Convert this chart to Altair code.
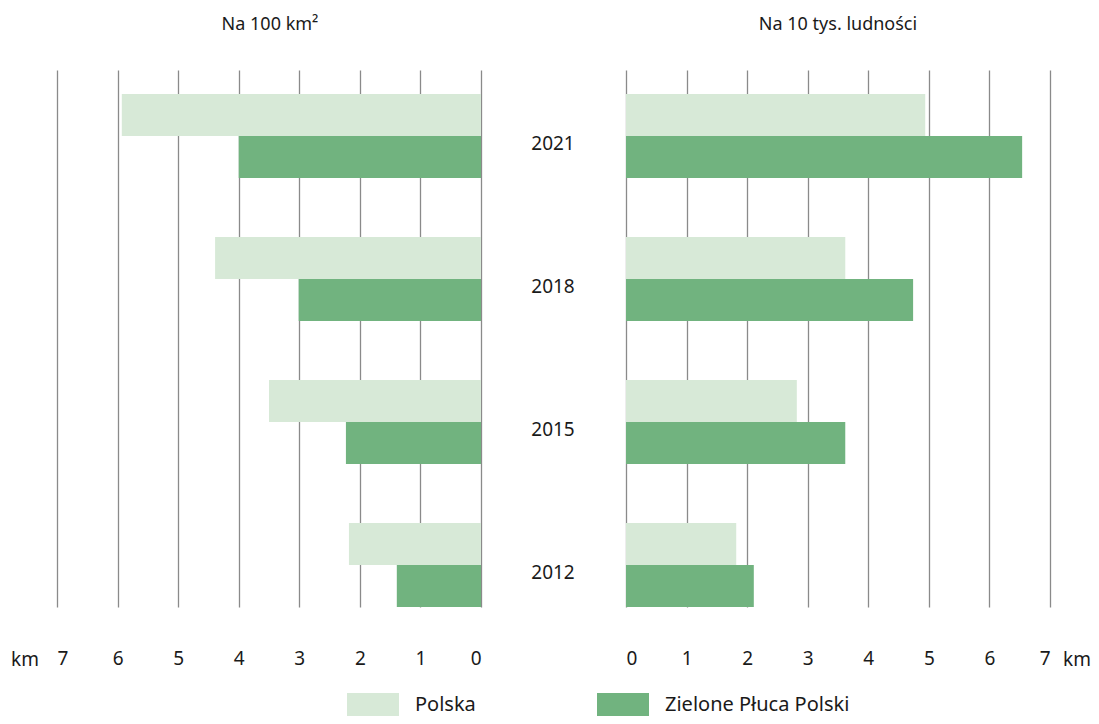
import altair as alt
import pandas as pd

years = ["2021", "2018", "2015", "2012"]
series = ["Polska", "Zielone Płuca Polski"]
area_polska = [5.93, 4.39, 3.50, 2.18]
area_zpp = [4.00, 3.01, 2.23, 1.39]
pop_polska = [4.94, 3.62, 2.82, 1.82]
pop_zpp = [6.54, 4.74, 3.62, 2.11]
tick_values = [0, 1, 2, 3, 4, 5, 6, 7]
colors = ["#d7e9d7", "#71b37f"]

rows = []
for i, y in enumerate(years):
    rows.append({"Year": y, "Series": series[0], "metric": "area", "Value": area_polska[i]})
    rows.append({"Year": y, "Series": series[1], "metric": "area", "Value": area_zpp[i]})
    rows.append({"Year": y, "Series": series[0], "metric": "pop", "Value": pop_polska[i]})
    rows.append({"Year": y, "Series": series[1], "metric": "pop", "Value": pop_zpp[i]})
df = pd.DataFrame(rows)
df_years = pd.DataFrame({"Year": years})

FONT = "Noto Sans"
W, H = 993, 537

y_enc = alt.Y("Year:N", sort=years, axis=None,
              scale=alt.Scale(domain=years, paddingInner=0.4126, paddingOuter=0.0839, align=1))
yoff_enc = alt.YOffset("Series:N", sort=series, scale=alt.Scale(domain=series, paddingInner=0, paddingOuter=0))
color_enc = alt.Color("Series:N", sort=series,
                      scale=alt.Scale(domain=series, range=colors),
                      legend=alt.Legend(orient="none", legendX=290, legendY=609, direction="horizontal",
                                        title=None, symbolType="M-1,-0.46H1V0.46H-1Z", symbolSize=2704,
                                        symbolStrokeWidth=0, symbolOpacity=1, labelFontSize=20,
                                        labelFont=FONT, labelColor="#1a1a1a", labelOffset=16,
                                        labelLimit=400, columnPadding=121, padding=0))


def axis():
    return alt.Axis(orient="bottom", values=tick_values, grid=True, gridColor="#8a8a8a", gridWidth=1.3,
                    domain=False, ticks=False, labelFontSize=19, labelFont=FONT, labelColor="#1a1a1a",
                    labelPadding=42, title=None, format="d")


left = alt.Chart(df).transform_filter(alt.datum.metric == "area").mark_bar().encode(
    x=alt.X("Value:Q", scale=alt.Scale(domain=[0, 7], range=[424, 0]), axis=axis()),
    y=y_enc, yOffset=yoff_enc, color=color_enc,
)
right = alt.Chart(df).transform_filter(alt.datum.metric == "pop").mark_bar().encode(
    x=alt.X("Value:Q", scale=alt.Scale(domain=[0, 7], range=[569, 993]), axis=axis()),
    y=y_enc, yOffset=yoff_enc, color=color_enc,
)

year_text = alt.Chart(df_years).mark_text(fontSize=19, font=FONT, color="#1a1a1a", dy=8).encode(
    y=alt.Y("Year:N", sort=years, axis=None,
            scale=alt.Scale(domain=years, paddingInner=0.4126, paddingOuter=0.0839, align=1)),
    x=alt.value(496),
    text="Year:N",
)

km_left = alt.Chart(df_years.head(1)).mark_text(fontSize=19, font=FONT, color="#1a1a1a").encode(
    x=alt.value(-32), y=alt.value(H + 53), text=alt.value("km"))
km_right = alt.Chart(df_years.head(1)).mark_text(fontSize=19, font=FONT, color="#1a1a1a",
                                                 align="right").encode(
    x=alt.value(1034), y=alt.value(H + 53), text=alt.value("km"))
title_left = alt.Chart(df_years.head(1)).mark_text(fontSize=18, font=FONT, color="#1a1a1a").encode(
    x=alt.value(213), y=alt.value(-45), text=alt.value("Na 100 km²"))
title_right = alt.Chart(df_years.head(1)).mark_text(fontSize=18, font=FONT, color="#1a1a1a").encode(
    x=alt.value(781), y=alt.value(-45), text=alt.value("Na 10 tys. ludności"))

chart = alt.layer(left, right, year_text, km_left, km_right, title_left, title_right).resolve_scale(
    x="independent"
).resolve_axis(x="independent").properties(
    width=W, height=H,
    autosize=alt.AutoSizeParams(type="none"),
    padding={"left": 49, "top": 62, "right": 41, "bottom": 109},
).configure_view(stroke=None)

chart.save("out.html", embed_options={"renderer": "svg", "actions": False})
